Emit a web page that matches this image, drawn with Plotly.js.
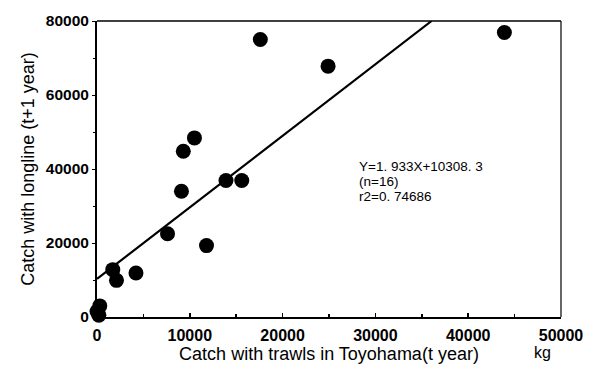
<!DOCTYPE html>
<html>
<head>
<meta charset="utf-8">
<script src="https://cdn.plot.ly/plotly-3.0.1.min.js"></script>
<style>html,body{margin:0;padding:0;background:#fff;}#chart{width:597px;height:372px;}</style>
</head>
<body>
<div id="chart"></div>
<script>
// Catch with trawls in Toyohama (t year), kg
const trawlCatch = [300, 0, 200, 1700, 2100, 4200, 7600, 9100, 9300, 10500, 11800, 13900, 15600, 17600, 24900, 43900];
// Catch with longline (t+1 year), kg
const longlineCatch = [3000, 1500, 500, 12800, 9900, 11900, 22500, 34000, 44800, 48400, 19300, 36900, 36900, 75000, 67800, 76900];
const slope = 1.933;
const intercept = 10308.3;
const yMax = 80000;
const xTickVals = [0, 10000, 20000, 30000, 40000, 50000];
const yTickVals = [0, 20000, 40000, 60000, 80000];
const yTickText = ['0', '20000', '40000', '60000', '80000'];
const eqLines = ['Y=1. 933X+10308. 3', '(n=16)', 'r2=0. 74686'];
const eqX = 28000;
const eqY = [40600, 36550, 32500];

const xEnd = (yMax - intercept) / slope;
const fitX = [0, xEnd];
const fitY = fitX.map(x => slope * x + intercept);

const sans = 'Liberation Sans, Arial, sans-serif';

const traces = [
  {x: fitX, y: fitY, mode: 'lines', line: {color: '#000', width: 2.2}, hoverinfo: 'skip'},
  {x: trawlCatch, y: longlineCatch, mode: 'markers', cliponaxis: false,
   marker: {color: '#000', size: 15, line: {width: 0}}}
];

const annotations = eqLines.map((t, i) => ({
  xref: 'x', yref: 'y', x: eqX, y: eqY[i], xanchor: 'left', yanchor: 'middle', align: 'left',
  text: t, showarrow: false, font: {family: sans, size: 13.5, color: '#000'}
}));
annotations.push({xref: 'paper', yref: 'paper', x: 0.938, y: -0.085, xanchor: 'left', yanchor: 'top',
  text: 'kg', showarrow: false, font: {family: sans, size: 16, color: '#000'}});

const layout = {
  width: 597, height: 372,
  margin: {l: 97, r: 36, t: 21, b: 55},
  paper_bgcolor: '#fff', plot_bgcolor: '#fff',
  showlegend: false,
  font: {family: sans, color: '#000'},
  xaxis: {
    range: [0, 50000], tickvals: xTickVals, ticktext: xTickVals.map(String),
    showgrid: false, zeroline: false, showline: true, mirror: false, linecolor: '#000', linewidth: 2,
    ticks: 'inside', ticklen: 4, tickcolor: '#000', tickwidth: 1.5, ticklabelstandoff: 3,
    minor: {dtick: 5000, ticks: 'inside', ticklen: 3, tickcolor: '#000'},
    tickfont: {family: sans, size: 16, color: '#000', weight: 'bold'},
    title: {text: 'Catch with trawls in Toyohama(t year)', font: {family: sans, size: 18, color: '#000'}, standoff: 1}
  },
  yaxis: {
    range: [0, 80000], tickvals: yTickVals, ticktext: yTickText,
    showgrid: false, zeroline: false, showline: true, mirror: false, linecolor: '#000', linewidth: 2,
    ticks: 'outside', ticklen: 3, tickcolor: '#000', tickwidth: 1,
    minor: {dtick: 10000, ticks: 'outside', ticklen: 2, tickcolor: '#000'},
    tickfont: {family: sans, size: 15.5, color: '#000', weight: 'bold'},
    title: {text: 'Catch with longline (t+1 year)', font: {family: sans, size: 18, color: '#000'}, standoff: 6}
  },
  shapes: [
    {type: 'line', xref: 'paper', yref: 'paper', x0: 0, x1: 1, y0: 1, y1: 1, line: {color: '#000', width: 1.4}},
    {type: 'line', xref: 'paper', yref: 'paper', x0: 1, x1: 1, y0: 0, y1: 1, line: {color: '#000', width: 1.2}}
  ],
  annotations: annotations
};

Plotly.newPlot('chart', traces, layout, {staticPlot: true, displayModeBar: false});
</script>
</body>
</html>
